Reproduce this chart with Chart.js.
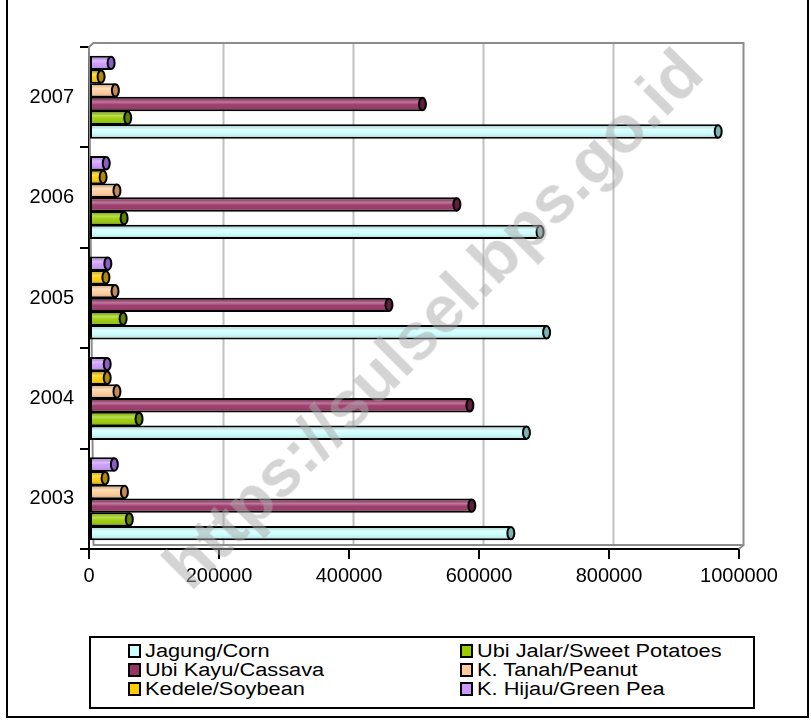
<!DOCTYPE html>
<html>
<head>
<meta charset="utf-8">
<title>Produksi Palawija</title>
<script src="https://cdn.jsdelivr.net/npm/chart.js@4.4.1/dist/chart.umd.min.js"></script>
<style>
  body { margin: 0; background: #fff; font-family: "Liberation Sans", Arial, sans-serif; }
  #wrap { position: relative; width: 811px; height: 721px; overflow: hidden; }
  #frame { position: absolute; left: 6px; top: -10px; width: 799px; height: 724px; border: 2px solid #000; }
  #chart { position: absolute; left: 0; top: 0; }
  #legend { position: absolute; left: 89px; top: 636px; width: 662px; height: 65px; padding-top: 4px;
            border: 2px solid #000; background: #fff; }
  .item { position: absolute; height: 19px; line-height: 19px; font-size: 18px; color: #000; white-space: nowrap; }
  .box { display: inline-block; width: 9px; height: 10px; border: 2px solid #000; margin-right: 4px; vertical-align: -1px; }
  .txt { display: inline-block; transform: scaleX(1.21); transform-origin: left center; }
  #wm { position: absolute; left: 432px; top: 318px; transform: translate(-50%, -50%) rotate(-45deg);
        font: bold 67px "Liberation Sans", Arial, sans-serif; color: rgba(170, 170, 170, 0.5);
        white-space: nowrap; pointer-events: none; }
</style>
</head>
<body>
<div id="wrap">
  <div id="frame"></div>
  <canvas id="chart" width="811" height="610"></canvas>
  <div id="legend"></div>
  <div id="wm">https://sulsel.bps.go.id</div>
</div>
<script>
// urutan tahun dari atas ke bawah
const years = ['2007', '2006', '2005', '2004', '2003'];

const jagung      = [968000, 694000, 704000, 673000, 649000];
const ubiJalar    = [59600, 54000, 52500, 77000, 62000];
const ubiKayu     = [513000, 566000, 461500, 586000, 589000];
const kacangTanah = [40600, 43000, 40000, 43000, 54500];
const kedele      = [18600, 21700, 26000, 28000, 24800];
const kacangHijau = [34000, 26500, 29000, 28000, 39000];

const xTicks = [0, 200000, 400000, 600000, 800000, 1000000];

const seriesNames  = ['Jagung/Corn', 'Ubi Jalar/Sweet Potatoes', 'Ubi Kayu/Cassava', 'K. Tanah/Peanut', 'Kedele/Soybean', 'K. Hijau/Green Pea'];
const seriesData   = [jagung, ubiJalar, ubiKayu, kacangTanah, kedele, kacangHijau];
const seriesColors = ['#ccffff', '#99cc00', '#993366', '#ffcc99', '#ffcc00', '#cc99ff'];
const capColors    = ['#7fb3b3', '#5f8000', '#5c1f3d', '#c08a5a', '#b08a00', '#8a5fc0'];

// bar paling atas = seri terakhir, jadi urutan dataset dibalik
const datasets = seriesNames.map((name, i) => ({
    label: name,
    data: seriesData[i],
    backgroundColor: seriesColors[i],
    borderColor: '#000',
    borderWidth: 2,
    borderSkipped: false,
    capColor: capColors[i],
    categoryPercentage: 0.82,
    barPercentage: 1.05
})).reverse();

const DX = 4.5, DY = -4;

const wallAndCylinder = {
    id: 'wallAndCylinder',
    beforeDatasetsDraw(chart) {
        const ctx = chart.ctx;
        const a = chart.chartArea;
        const xs = chart.scales.x;
        ctx.save();
        // garis grid di dinding belakang
        ctx.strokeStyle = '#c0c0c0';
        ctx.lineWidth = 2;
        xTicks.slice(1, -1).forEach(v => {
            const px = xs.getPixelForValue(v) + DX;
            ctx.beginPath();
            ctx.moveTo(px, a.top + DY);
            ctx.lineTo(px, a.bottom + DY);
            ctx.stroke();
        });
        // bingkai dinding belakang
        ctx.strokeStyle = '#8c8c8c';
        ctx.beginPath();
        ctx.moveTo(a.left, a.top);
        ctx.lineTo(a.left + DX, a.top + DY);
        ctx.lineTo(a.right + DX, a.top + DY);
        ctx.lineTo(a.right + DX, a.bottom + DY);
        ctx.lineTo(a.left + DX, a.bottom + DY);
        ctx.closePath();
        ctx.stroke();
        ctx.beginPath();
        ctx.moveTo(a.right, a.bottom);
        ctx.lineTo(a.right + DX, a.bottom + DY);
        ctx.stroke();
        ctx.restore();
    },
    afterDatasetsDraw(chart) {
        const ctx = chart.ctx;
        ctx.save();
        chart.data.datasets.forEach((ds, i) => {
            chart.getDatasetMeta(i).data.forEach(bar => {
                const p = bar.getProps(['x', 'y', 'base', 'height'], true);
                const top = p.y - p.height / 2;
                const g = ctx.createLinearGradient(0, top, 0, top + p.height);
                g.addColorStop(0, 'rgba(0,0,0,0.10)');
                g.addColorStop(0.35, 'rgba(255,255,255,0.35)');
                g.addColorStop(0.55, 'rgba(255,255,255,0.05)');
                g.addColorStop(1, 'rgba(0,0,0,0.22)');
                ctx.fillStyle = g;
                ctx.fillRect(p.base + 2, top + 2, p.x - p.base - 4, p.height - 4);
                // tutup silinder
                ctx.beginPath();
                ctx.ellipse(p.x, p.y, 3.5, p.height / 2 - 1, 0, 0, Math.PI * 2);
                ctx.fillStyle = ds.capColor;
                ctx.fill();
                ctx.lineWidth = 2;
                ctx.strokeStyle = '#000';
                ctx.stroke();
            });
        });
        ctx.restore();
    }
};

Chart.defaults.font.family = '"Liberation Sans", Arial, sans-serif';
Chart.defaults.color = '#000';

new Chart(document.getElementById('chart').getContext('2d'), {
    type: 'bar',
    data: { labels: years, datasets: datasets },
    plugins: [wallAndCylinder],
    options: {
        indexAxis: 'y',
        responsive: false,
        animation: false,
        devicePixelRatio: 1,
        layout: { padding: { top: 47, right: 72, bottom: 0, left: 0 } },
        plugins: { legend: { display: false }, tooltip: { enabled: false } },
        scales: {
            x: {
                type: 'linear',
                min: 0,
                max: 1000000,
                afterBuildTicks: scale => { scale.ticks = xTicks.map(v => ({ value: v })); },
                afterFit: scale => { scale.height = 61; },
                grid: { drawOnChartArea: false, tickLength: 10, color: '#000', lineWidth: 2 },
                border: { color: '#000', width: 2 },
                ticks: { font: { size: 20 }, padding: 5, maxRotation: 0, callback: v => String(v) }
            },
            y: {
                type: 'category',
                afterFit: scale => { scale.width = 89; },
                grid: { offset: true, drawOnChartArea: false, tickLength: 9, color: '#000', lineWidth: 2 },
                border: { color: '#000', width: 2 },
                ticks: { font: { size: 20 }, padding: 6 }
            }
        }
    }
});

// legenda dua kolom, urut per baris seperti aslinya
const legend = document.getElementById('legend');
seriesNames.forEach((name, i) => {
    const el = document.createElement('div');
    el.className = 'item';
    el.style.left = (i % 2 === 0 ? 37 : 369) + 'px';
    el.style.top = (4 + Math.floor(i / 2) * 19) + 'px';
    el.innerHTML = '<span class="box" style="background:' + seriesColors[i] + '"></span><span class="txt">' + name + '</span>';
    legend.appendChild(el);
});
</script>
</body>
</html>
